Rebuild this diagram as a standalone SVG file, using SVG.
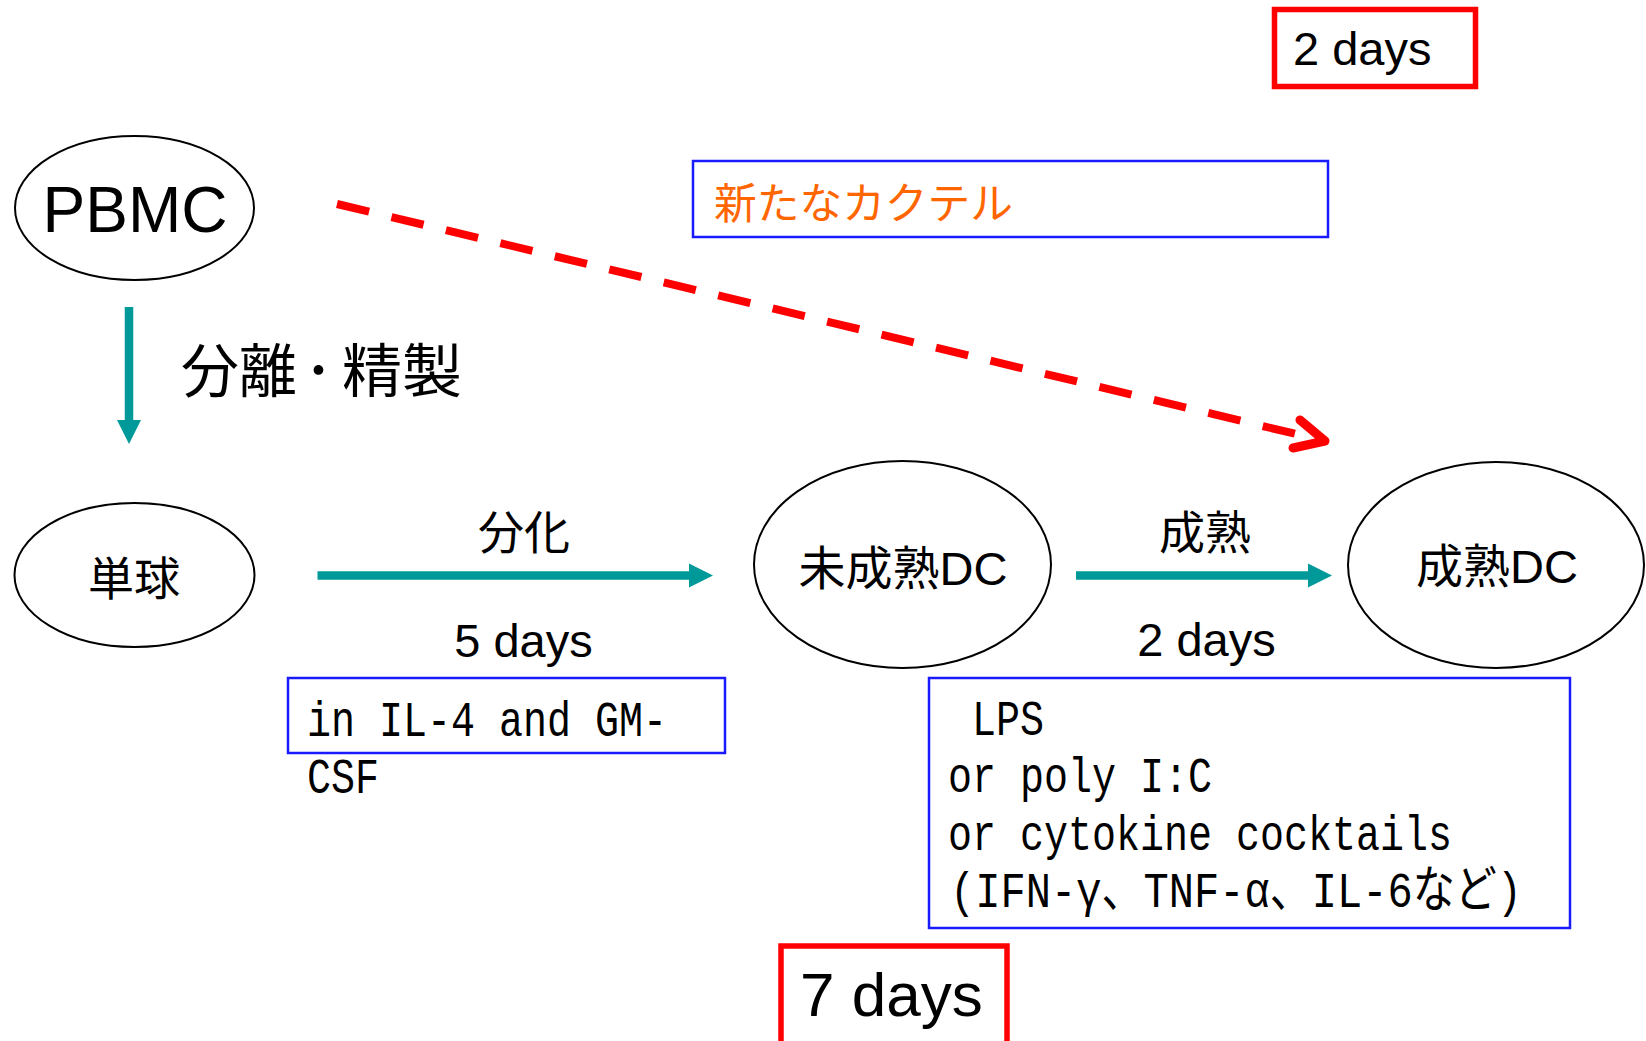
<svg xmlns="http://www.w3.org/2000/svg" width="1646" height="1041" viewBox="0 0 1646 1041">
  <style>
    .node { fill: #ffffff; stroke: #000000; stroke-width: 2; }
    .sans { font-family: "Liberation Sans", "Noto Sans CJK JP", sans-serif; fill: #000000; }
    .jp { font-family: "Noto Sans CJK JP", sans-serif; fill: #000000; }
    .mono { font-family: "Liberation Mono", "Noto Sans CJK JP", monospace; fill: #000000; font-size: 50px; }
    .bluebox { fill: none; stroke: #1a1aff; stroke-width: 2.5; }
    .redbox { fill: none; stroke: #ff0000; stroke-width: 5.5; }
    .teal { stroke: #009999; stroke-width: 8.5; fill: none; }
    .reddash { stroke: #ff0000; stroke-width: 8; fill: none; stroke-dasharray: 33 23; }
    .redhead { stroke: #ff0000; stroke-width: 9; fill: none; stroke-linecap: round; stroke-linejoin: round; }
  </style>
  <defs>
    <marker id="tealHead" markerUnits="userSpaceOnUse" markerWidth="24" markerHeight="24" refX="0" refY="12" orient="auto" overflow="visible">
      <path d="M0,0 L24,12 L0,24 Z" fill="#009999"/>
    </marker>
  </defs>
  <rect width="1646" height="1041" fill="#ffffff"/>

  <g id="connectors">
    <line class="teal" x1="129" y1="307" x2="129" y2="420" marker-end="url(#tealHead)"/>
    <line class="teal" x1="317.5" y1="575.5" x2="689" y2="575.5" marker-end="url(#tealHead)"/>
    <line class="teal" x1="1076" y1="575.5" x2="1308" y2="575.5" marker-end="url(#tealHead)"/>
    <line class="reddash" x1="337" y1="204" x2="1296" y2="434"/>
    <polyline class="redhead" points="1300,420 1325,441 1293,448"/>
  </g>

  <g id="label-separation">
    <text class="jp" y="392" font-size="58"><tspan x="181">分離</tspan><tspan x="304">･</tspan><tspan x="342" textLength="120" lengthAdjust="spacingAndGlyphs">精製</tspan></text>
  </g>
  <g id="label-diff">
    <text class="jp" x="524" y="549" font-size="46" text-anchor="middle">分化</text>
    <text class="sans" x="523.5" y="657" font-size="47" text-anchor="middle">5 days</text>
  </g>
  <g id="label-mature">
    <text class="jp" x="1205" y="549" font-size="46" text-anchor="middle">成熟</text>
    <text class="sans" x="1206.5" y="656" font-size="47" text-anchor="middle">2 days</text>
  </g>

  <g id="node-pbmc">
    <ellipse class="node" cx="134.5" cy="208" rx="119.5" ry="72"/>
    <text class="sans" x="135" y="232" font-size="64" text-anchor="middle">PBMC</text>
  </g>
  <g id="node-monocyte">
    <ellipse class="node" cx="134.5" cy="575" rx="120" ry="72"/>
    <text class="jp" x="134" y="595" font-size="46" text-anchor="middle">単球</text>
  </g>
  <g id="node-immature-dc">
    <ellipse class="node" cx="902.5" cy="564.5" rx="148.5" ry="103.5"/>
    <text class="sans" x="903" y="585" font-size="47" text-anchor="middle">未成熟DC</text>
  </g>
  <g id="node-mature-dc">
    <ellipse class="node" cx="1496" cy="565" rx="148" ry="103"/>
    <text class="sans" x="1497" y="583" font-size="47" text-anchor="middle">成熟DC</text>
  </g>

  <g id="box-2days-top">
    <rect class="redbox" x="1274.5" y="9.5" width="201" height="77"/>
    <text class="sans" x="1293" y="65" font-size="47">2 days</text>
  </g>
  <g id="box-cocktail">
    <rect class="bluebox" x="693" y="161" width="635" height="76"/>
    <text x="714" y="219" font-size="43" font-family="Noto Sans CJK JP, sans-serif" fill="#ff6600" textLength="299" lengthAdjust="spacingAndGlyphs">新たなカクテル</text>
  </g>
  <g id="box-il4">
    <rect class="bluebox" x="288" y="678" width="437" height="75"/>
    <text class="mono" x="307" y="736" textLength="360" lengthAdjust="spacingAndGlyphs">in IL-4 and GM-</text>
    <text class="mono" x="307" y="793" textLength="72" lengthAdjust="spacingAndGlyphs">CSF</text>
  </g>
  <g id="box-lps">
    <rect class="bluebox" x="929" y="678" width="641" height="250"/>
    <text class="mono" x="948" y="735" textLength="96" lengthAdjust="spacingAndGlyphs" xml:space="preserve"> LPS</text>
    <text class="mono" x="948" y="792" textLength="264" lengthAdjust="spacingAndGlyphs">or poly I:C</text>
    <text class="mono" x="948" y="850" textLength="504" lengthAdjust="spacingAndGlyphs">or cytokine cocktails</text>
    <text class="mono" x="950" y="907" textLength="572" lengthAdjust="spacingAndGlyphs">(IFN-γ、TNF-α、IL-6など)</text>
  </g>
  <g id="box-7days">
    <rect class="redbox" x="781" y="946" width="226" height="100"/>
    <text class="sans" x="800" y="1016" font-size="62">7 days</text>
  </g>
</svg>
